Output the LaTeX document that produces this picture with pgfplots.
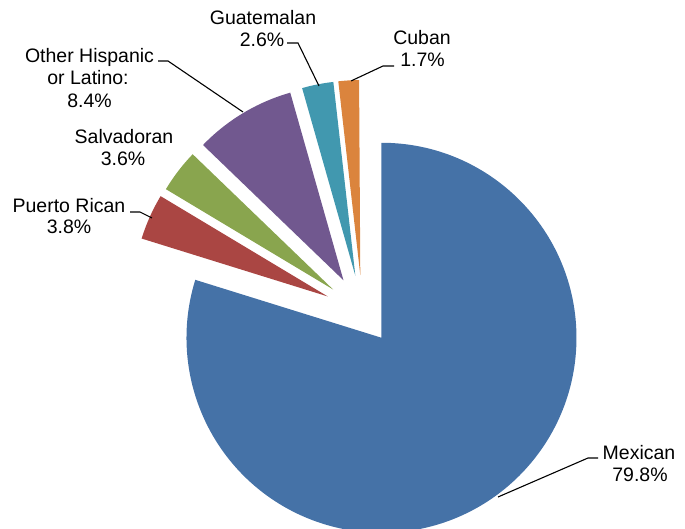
\documentclass[border=0pt]{standalone}
\usepackage{pgfplots}
\pgfplotsset{compat=1.18}
\usepackage{pgfplotstable}
\usepackage{fontspec}
\setmainfont{Liberation Sans}

\definecolor{c0}{HTML}{4572A7}
\definecolor{c1}{HTML}{AA4643}
\definecolor{c2}{HTML}{89A54E}
\definecolor{c3}{HTML}{71588F}
\definecolor{c4}{HTML}{4198AF}
\definecolor{c5}{HTML}{DB843D}

% share in percent, explosion offset (pt)
\pgfplotstableread{
idx pct expl
0 79.8 32
1 3.8 38
2 3.6 37
3 8.4 37
4 2.6 37
5 1.7 37
}\piedata

\begin{document}
\begin{tikzpicture}
\useasboundingbox (0,0) rectangle (685pt,529pt);
% slice angles, clockwise from 12 o'clock
\xdef\cum{0}
\foreach \i in {0,...,5}{
  \pgfplotstablegetelem{\i}{pct}\of\piedata \let\p\pgfplotsretval
  \pgfplotstablegetelem{\i}{expl}\of\piedata \let\d\pgfplotsretval
  \pgfmathsetmacro\sa{90-3.6*\cum}
  \pgfmathsetmacro\ea{90-3.6*(\cum+\p)}
  \pgfmathsetmacro\md{(\sa+\ea)/2}
  \pgfmathsetmacro\vx{362.5+\d*cos(\md)}
  \pgfmathsetmacro\vy{217+\d*sin(\md)}
  \expandafter\xdef\csname sa\i\endcsname{\sa}
  \expandafter\xdef\csname ea\i\endcsname{\ea}
  \expandafter\xdef\csname vx\i\endcsname{\vx}
  \expandafter\xdef\csname vy\i\endcsname{\vy}
  \pgfmathsetmacro\nc{\cum+\p}
  \xdef\cum{\nc}
}
\begin{axis}[
  at={(0,0)}, anchor=south west,
  scale only axis, width=685pt, height=529pt,
  xmin=0, xmax=685, ymin=0, ymax=529,
  hide axis, clip=true]

\pgfplotsinvokeforeach{0,...,5}{
  \fill[c#1] (axis cs:\csname vx#1\endcsname,\csname vy#1\endcsname)
    -- ++(\csname sa#1\endcsname:195pt)
    arc[start angle=\csname sa#1\endcsname, end angle=\csname ea#1\endcsname, radius=195pt]
    -- cycle;
}

% leader lines
\addplot[black, line width=1.1pt] coordinates {(598,71) (588,71) (498,32)};
\addplot[black, line width=1.1pt] coordinates {(394,463) (383,463) (351,448)};
\addplot[black, line width=1.1pt] coordinates {(287,486) (298,486) (319,443)};
\addplot[black, line width=1.1pt] coordinates {(158,468) (168,468) (243,417)};
\addplot[black, line width=1.1pt] coordinates {(130,317) (140,317) (152,311)};

\tikzset{lbl/.style={font=\fontsize{19.5}{22.5}\selectfont, anchor=base, inner sep=0pt}}
\node[lbl] at (axis cs:639,69) {Mexican};
\node[lbl] at (axis cs:640,47) {79.8\%};
\node[lbl] at (axis cs:422,484) {Cuban};
\node[lbl] at (axis cs:422.5,462) {1.7\%};
\node[lbl] at (axis cs:263,504) {Guatemalan};
\node[lbl] at (axis cs:262,482) {2.6\%};
\node[lbl] at (axis cs:89.5,466) {Other Hispanic};
\node[lbl] at (axis cs:88,444) {or Latino:};
\node[lbl] at (axis cs:89.5,421) {8.4\%};
\node[lbl] at (axis cs:124,385) {Salvadoran};
\node[lbl] at (axis cs:123,363) {3.6\%};
\node[lbl] at (axis cs:69,316) {Puerto Rican};
\node[lbl] at (axis cs:69,295) {3.8\%};
\end{axis}
\end{tikzpicture}
\end{document}
